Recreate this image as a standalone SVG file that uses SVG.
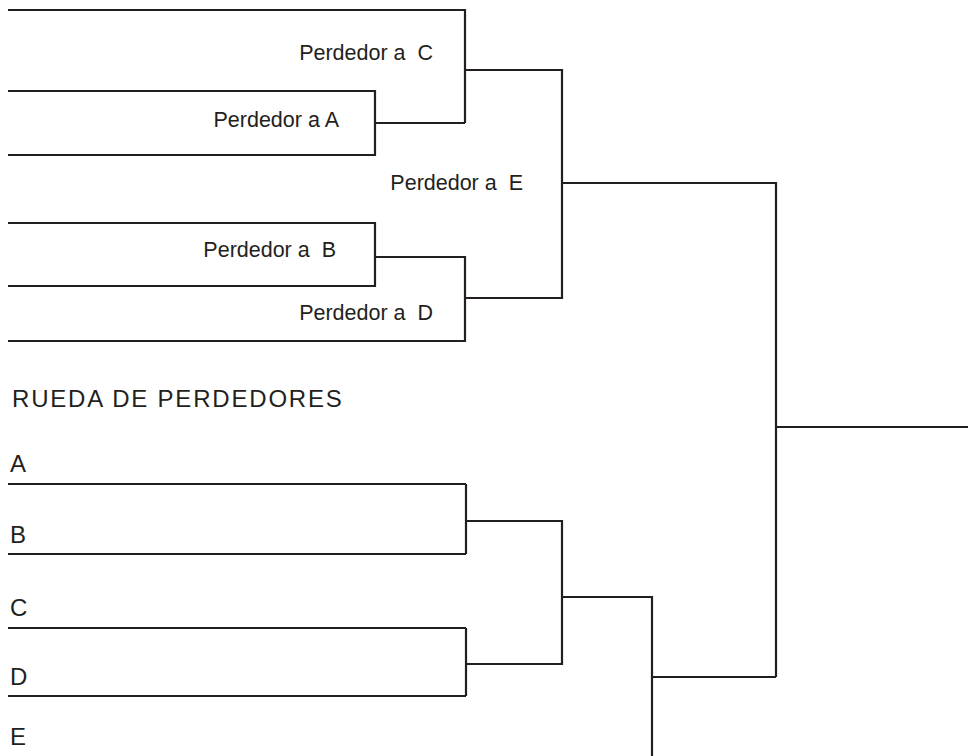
<svg xmlns="http://www.w3.org/2000/svg" width="970" height="756" viewBox="0 0 970 756">
<style>
.ln{fill:none;stroke:#231f20;stroke-width:2.2;stroke-linecap:butt;stroke-linejoin:miter}
.lbl{font-family:"Liberation Sans",Arial,sans-serif;font-size:21.5px;fill:#231f20;text-anchor:end;white-space:pre}
.ttl{font-family:"Liberation Sans",Arial,sans-serif;font-size:24px;fill:#231f20;letter-spacing:1.8px}
.slot{font-family:"Liberation Sans",Arial,sans-serif;font-size:24px;fill:#231f20}
</style>
<rect width="970" height="756" fill="#ffffff"/>
<g id="upper-bracket">
  <g id="perdedor-c"><path class="ln" d="M8 10 H465 V123"/><text class="lbl" x="433" y="60">Perdedor a  C</text></g>
  <g id="perdedor-a"><path class="ln" d="M8 91 H375 V155 H8"/><text class="lbl" x="339" y="127">Perdedor a A</text></g>
  <g id="perdedor-e"><text class="lbl" x="523" y="190">Perdedor a  E</text></g>
  <g id="perdedor-b"><path class="ln" d="M8 223 H375 V286 H8"/><text class="lbl" x="336" y="257">Perdedor a  B</text></g>
  <g id="perdedor-d"><path class="ln" d="M375 257 H465 V341 H8"/><text class="lbl" x="433" y="320">Perdedor a  D</text></g>
</g>
<g id="title"><text class="ttl" x="12" y="407">RUEDA DE PERDEDORES</text></g>
<g id="lower-bracket">
  <g id="slot-a"><text class="slot" x="10" y="472">A</text><path class="ln" d="M8 484 H466"/></g>
  <g id="slot-b"><text class="slot" x="10" y="543">B</text><path class="ln" d="M8 554 H466"/></g>
  <g id="slot-c"><text class="slot" x="10" y="616">C</text><path class="ln" d="M8 628 H466"/></g>
  <g id="slot-d"><text class="slot" x="10" y="685">D</text><path class="ln" d="M8 696 H466"/></g>
  <g id="slot-e"><text class="slot" x="10" y="745">E</text></g>
</g>
<g id="connectors">
  <path class="ln" d="M375 123 H465"/>
  <path class="ln" d="M465 70 H562 V298 H465"/>
  <path class="ln" d="M562 183 H776 V677"/>
  <path class="ln" d="M776 427 H968"/>
  <path class="ln" d="M466 484 V554"/>
  <path class="ln" d="M466 521 H562 V664 H466"/>
  <path class="ln" d="M466 628 V696"/>
  <path class="ln" d="M562 597 H652 V756"/>
  <path class="ln" d="M652 677 H776"/>
</g>
</svg>
